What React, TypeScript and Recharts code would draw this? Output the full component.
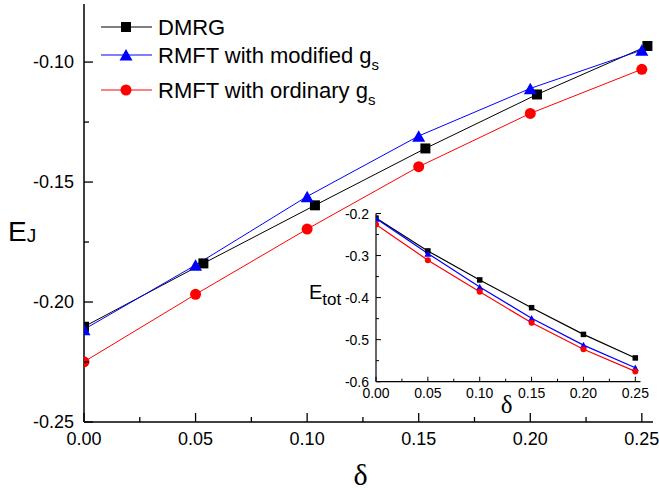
import React from 'react';
import { LineChart, Line, XAxis, YAxis, Legend } from 'recharts';

const FONT = '"Liberation Sans", Arial, sans-serif';
const SERIF = '"Liberation Serif", "Times New Roman", serif';

// ---- main panel data (E_J vs delta) ----
const deltaDMRG = [0, 0.0535, 0.1035, 0.153, 0.203, 0.2525];
const deltaRMFT = [0, 0.05, 0.1, 0.15, 0.2, 0.25];
const ejDMRG = [-0.2103, -0.1839, -0.1597, -0.136, -0.1135, -0.0933];
const ejModified = [-0.2114, -0.1846, -0.156, -0.1308, -0.111, -0.095];
const ejOrdinary = [-0.2249, -0.1968, -0.1696, -0.1436, -0.1214, -0.103];

// ---- inset data (E_tot vs delta) ----
const deltaInset = [0, 0.05, 0.1, 0.15, 0.2, 0.25];
const etotDMRG = [-0.211, -0.289, -0.358, -0.424, -0.4875, -0.5435];
const etotModified = [-0.212, -0.295, -0.375, -0.449, -0.513, -0.567];
const etotOrdinary = [-0.226, -0.311, -0.386, -0.46, -0.523, -0.5755];

// ---- ticks ----
const mainXTicks = [0, 0.025, 0.05, 0.075, 0.1, 0.125, 0.15, 0.175, 0.2, 0.225, 0.25];
const mainXMajor = [0, 0.05, 0.1, 0.15, 0.2, 0.25];
const mainYTicks = [-0.25, -0.225, -0.2, -0.175, -0.15, -0.125, -0.1];
const mainYMajor = [-0.25, -0.2, -0.15, -0.1];
const insetXTicks = mainXTicks;
const insetXMajor = mainXMajor;
const insetYTicks = [-0.6, -0.55, -0.5, -0.45, -0.4, -0.35, -0.3, -0.25, -0.2];
const insetYMajor = [-0.6, -0.5, -0.4, -0.3, -0.2];

const seriesNames = ['DMRG', 'RMFT with modified g', 'RMFT with ordinary g'];
const seriesSub = ['', 's', 's'];
const seriesColors = ['#000000', '#0000ff', '#ff0000'];

const toPoints = (xs: number[], ys: number[]) => xs.map((x, i) => ({ x, y: ys[i] }));

const mainDMRG = toPoints(deltaDMRG, ejDMRG);
const mainMod = toPoints(deltaRMFT, ejModified);
const mainOrd = toPoints(deltaRMFT, ejOrdinary);
const insDMRG = toPoints(deltaInset, etotDMRG);
const insMod = toPoints(deltaInset, etotModified);
const insOrd = toPoints(deltaInset, etotOrdinary);

const isIn = (arr: number[], v: number) => arr.some((m) => Math.abs(m - v) < 1e-9);

type TickOpts = {
  side: 'bottom' | 'top' | 'left' | 'right';
  majors: number[];
  digits?: number;
  major: number;
  minor: number;
  fontSize?: number;
  gap?: number;
  base?: number;
  sw?: number;
};

const makeTick = (o: TickOpts) => (props: any) => {
  const { x, y, payload, index } = props;
  const v = payload.value;
  const maj = isIn(o.majors, v);
  const L = maj ? o.major : o.minor;
  const sw = o.sw ?? 1.2;
  let line: any = null;
  let label: any = null;
  const lbl = o.digits !== undefined && maj ? v.toFixed(o.digits) : null;
  if (o.side === 'bottom') {
    line = <line x1={x} y1={y} x2={x} y2={y - L} stroke="#000" strokeWidth={sw} />;
    if (lbl !== null)
      label = (
        <text x={x} y={y + (o.base ?? 0)} textAnchor="middle" fontSize={o.fontSize} fontFamily={FONT} fill="#000">
          {lbl}
        </text>
      );
  } else if (o.side === 'top') {
    line = <line x1={x} y1={y} x2={x} y2={y + L} stroke="#000" strokeWidth={sw} />;
  } else if (o.side === 'left') {
    line = <line x1={x} y1={y} x2={x + L} y2={y} stroke="#000" strokeWidth={sw} />;
    if (lbl !== null)
      label = (
        <text x={x - (o.gap ?? 0)} y={y + (o.base ?? 0)} textAnchor="end" fontSize={o.fontSize} fontFamily={FONT} fill="#000">
          {lbl}
        </text>
      );
  } else {
    line = <line x1={x} y1={y} x2={x - L} y2={y} stroke="#000" strokeWidth={sw} />;
  }
  return (
    <g key={`t-${o.side}-${index}`}>
      {line}
      {label}
    </g>
  );
};

const mkSquare = (s: number, color: string) => (p: any) =>
  p.cx == null ? <g key={`sq-${p.index}`} /> : (
    <rect key={`sq-${p.index}`} x={p.cx - s / 2} y={p.cy - s / 2} width={s} height={s} fill={color} />
  );
const mkTriangle = (w: number, h: number, color: string) => (p: any) =>
  p.cx == null ? <g key={`tr-${p.index}`} /> : (
    <polygon
      key={`tr-${p.index}`}
      points={`${p.cx},${p.cy - h / 2} ${p.cx + w / 2},${p.cy + h / 2} ${p.cx - w / 2},${p.cy + h / 2}`}
      fill={color}
    />
  );
const mkCircle = (r: number, color: string) => (p: any) =>
  p.cx == null ? <g key={`ci-${p.index}`} /> : <circle key={`ci-${p.index}`} cx={p.cx} cy={p.cy} r={r} fill={color} />;

const axisLineMain = { stroke: '#000', strokeWidth: 1.5 };
const axisLineInset = { stroke: '#000', strokeWidth: 1.2 };

const legendRowsY = [27, 55, 90];

const LegendContent = () => (
  <svg width={420} height={110} style={{ display: 'block' }}>
    {seriesNames.map((name, i) => {
      const y = legendRowsY[i];
      const c = seriesColors[i];
      const cx = 126;
      let marker: any;
      if (i === 0) marker = <rect x={cx - 5} y={y - 5} width={10} height={10} fill={c} />;
      else if (i === 1) marker = <polygon points={`${cx},${y - 6} ${cx + 6.5},${y + 5.5} ${cx - 6.5},${y + 5.5}`} fill={c} />;
      else marker = <circle cx={cx} cy={y} r={5.5} fill={c} />;
      return (
        <g key={name}>
          <line x1={101} y1={y} x2={152} y2={y} stroke={c} strokeWidth={1} />
          {marker}
          <text x={158} y={y + 7.5} fontSize={22} fontFamily={FONT} fill="#000">
            {name}
            {seriesSub[i] ? (
              <tspan fontSize={15} dy={7}>
                {seriesSub[i]}
              </tspan>
            ) : null}
          </text>
        </g>
      );
    })}
  </svg>
);

const MainYLabel = (p: any) => {
  const vb = p.viewBox;
  return (
    <text x={vb.x + 8} y={vb.y + 236.7} fontFamily={FONT} fill="#000">
      <tspan fontSize={28}>E</tspan>
      <tspan fontSize={19} dy={1}>J</tspan>
    </text>
  );
};
const MainXLabel = (p: any) => {
  const vb = p.viewBox;
  return (
    <text x={vb.x + vb.width / 2 - 8} y={vb.y + 63} textAnchor="middle" fontFamily={SERIF} fontSize={30} fill="#000">
      δ
    </text>
  );
};
const InsetYLabel = (p: any) => {
  const vb = p.viewBox;
  return (
    <text x={vb.x + 19} y={vb.y + 85.8} fontFamily={FONT} fill="#000">
      <tspan fontSize={20}>E</tspan>
      <tspan fontSize={17} dy={6}>tot</tspan>
    </text>
  );
};
const InsetXLabel = (p: any) => {
  const vb = p.viewBox;
  return (
    <text x={vb.x + vb.width / 2 - 1.5} y={vb.y + 31.3} textAnchor="middle" fontFamily={SERIF} fontSize={25} fill="#000">
      δ
    </text>
  );
};

export default function App() {
  return (
    <div style={{ position: 'absolute', left: 0, top: 0, width: 659, height: 491, background: '#fff' }}>
      <div style={{ position: 'absolute', left: 0, top: 0 }}>
        <LineChart width={659} height={491} margin={{ top: 4, right: 6, bottom: 0, left: 0 }}>
          <XAxis
            xAxisId="b"
            type="number"
            dataKey="x"
            domain={[0, 0.255]}
            ticks={mainXTicks}
            interval={0}
            tickSize={0}
            tickMargin={0}
            height={69}
            axisLine={axisLineMain}
            tickLine={false}
            tick={makeTick({ side: 'bottom', majors: mainXMajor, digits: 2, major: 9, minor: 5, fontSize: 18, base: 23, sw: 1.3 })}
            label={<MainXLabel />}
            allowDataOverflow
          />
          <XAxis
            xAxisId="t"
            orientation="top"
            type="number"
            dataKey="x"
            domain={[0, 0.255]}
            ticks={mainXTicks}
            interval={0}
            tickSize={0}
            tickMargin={0}
            height={0}
            axisLine={axisLineMain}
            tickLine={false}
            tick={makeTick({ side: 'top', majors: mainXMajor, major: 9, minor: 5, sw: 1.3 })}
            allowDataOverflow
          />
          <YAxis
            yAxisId="l"
            type="number"
            domain={[-0.25, -0.0758]}
            ticks={mainYTicks}
            interval={0}
            tickSize={0}
            tickMargin={0}
            width={84}
            axisLine={axisLineMain}
            tickLine={false}
            tick={makeTick({ side: 'left', majors: mainYMajor, digits: 2, major: 9, minor: 5, fontSize: 18, gap: 10, base: 6.3, sw: 1.3 })}
            label={<MainYLabel />}
            allowDataOverflow
          />
          <YAxis
            yAxisId="r"
            orientation="right"
            type="number"
            domain={[-0.25, -0.0758]}
            ticks={mainYTicks}
            interval={0}
            tickSize={0}
            tickMargin={0}
            width={0}
            axisLine={axisLineMain}
            tickLine={false}
            tick={makeTick({ side: 'right', majors: mainYMajor, major: 9, minor: 5, sw: 1.3 })}
            allowDataOverflow
          />
          <Legend
            layout="vertical"
            verticalAlign="middle"
            align="center"
            wrapperStyle={{ left: 0, top: 0, width: 420, height: 110 }}
            content={<LegendContent />}
          />
          <Line
            xAxisId="b"
            yAxisId="l"
            data={mainDMRG}
            dataKey="y"
            name={seriesNames[0]}
            stroke={seriesColors[0]}
            strokeWidth={1}
            dot={mkSquare(10, seriesColors[0])}
            activeDot={false}
            isAnimationActive={false}
          />
          <Line
            xAxisId="b"
            yAxisId="l"
            data={mainMod}
            dataKey="y"
            name={seriesNames[1]}
            stroke={seriesColors[1]}
            strokeWidth={1}
            dot={mkTriangle(13, 11.5, seriesColors[1])}
            activeDot={false}
            isAnimationActive={false}
          />
          <Line
            xAxisId="b"
            yAxisId="l"
            data={mainOrd}
            dataKey="y"
            name={seriesNames[2]}
            stroke={seriesColors[2]}
            strokeWidth={1}
            dot={mkCircle(5.5, seriesColors[2])}
            activeDot={false}
            isAnimationActive={false}
          />
        </LineChart>
      </div>
      <div style={{ position: 'absolute', left: 290, top: 190 }}>
        <LineChart width={365} height={240} margin={{ top: 23.5, right: 14.5, bottom: 0, left: 0 }}>
          <XAxis
            xAxisId="b"
            type="number"
            dataKey="x"
            domain={[0, 0.255]}
            ticks={insetXTicks}
            interval={0}
            tickSize={0}
            tickMargin={0}
            height={48.3}
            axisLine={axisLineInset}
            tickLine={false}
            tick={makeTick({ side: 'bottom', majors: insetXMajor, digits: 2, major: 5, minor: 3, fontSize: 14, base: 16.5, sw: 1 })}
            label={<InsetXLabel />}
            allowDataOverflow
          />
          <XAxis
            xAxisId="t"
            orientation="top"
            type="number"
            dataKey="x"
            domain={[0, 0.255]}
            ticks={insetXTicks}
            interval={0}
            tickSize={0}
            tickMargin={0}
            height={0}
            axisLine={axisLineInset}
            tickLine={false}
            tick={makeTick({ side: 'top', majors: insetXMajor, major: 5, minor: 3, sw: 1 })}
            allowDataOverflow
          />
          <YAxis
            yAxisId="l"
            type="number"
            domain={[-0.6, -0.2]}
            ticks={insetYTicks}
            interval={0}
            tickSize={0}
            tickMargin={0}
            width={86}
            axisLine={axisLineInset}
            tickLine={false}
            tick={makeTick({ side: 'left', majors: insetYMajor, digits: 1, major: 5, minor: 3, fontSize: 14, gap: 7, base: 5, sw: 1 })}
            label={<InsetYLabel />}
            allowDataOverflow
          />
          <YAxis
            yAxisId="r"
            orientation="right"
            type="number"
            domain={[-0.6, -0.2]}
            ticks={insetYTicks}
            interval={0}
            tickSize={0}
            tickMargin={0}
            width={0}
            axisLine={axisLineInset}
            tickLine={false}
            tick={makeTick({ side: 'right', majors: insetYMajor, major: 5, minor: 3, sw: 1 })}
            allowDataOverflow
          />
          <Line
            xAxisId="b"
            yAxisId="l"
            data={insDMRG}
            dataKey="y"
            stroke={seriesColors[0]}
            strokeWidth={1.2}
            dot={mkSquare(5.5, seriesColors[0])}
            activeDot={false}
            isAnimationActive={false}
          />
          <Line
            xAxisId="b"
            yAxisId="l"
            data={insMod}
            dataKey="y"
            stroke={seriesColors[1]}
            strokeWidth={1.2}
            dot={mkTriangle(7, 6.5, seriesColors[1])}
            activeDot={false}
            isAnimationActive={false}
          />
          <Line
            xAxisId="b"
            yAxisId="l"
            data={insOrd}
            dataKey="y"
            stroke={seriesColors[2]}
            strokeWidth={1.2}
            dot={mkCircle(3, seriesColors[2])}
            activeDot={false}
            isAnimationActive={false}
          />
        </LineChart>
      </div>
    </div>
  );
}
